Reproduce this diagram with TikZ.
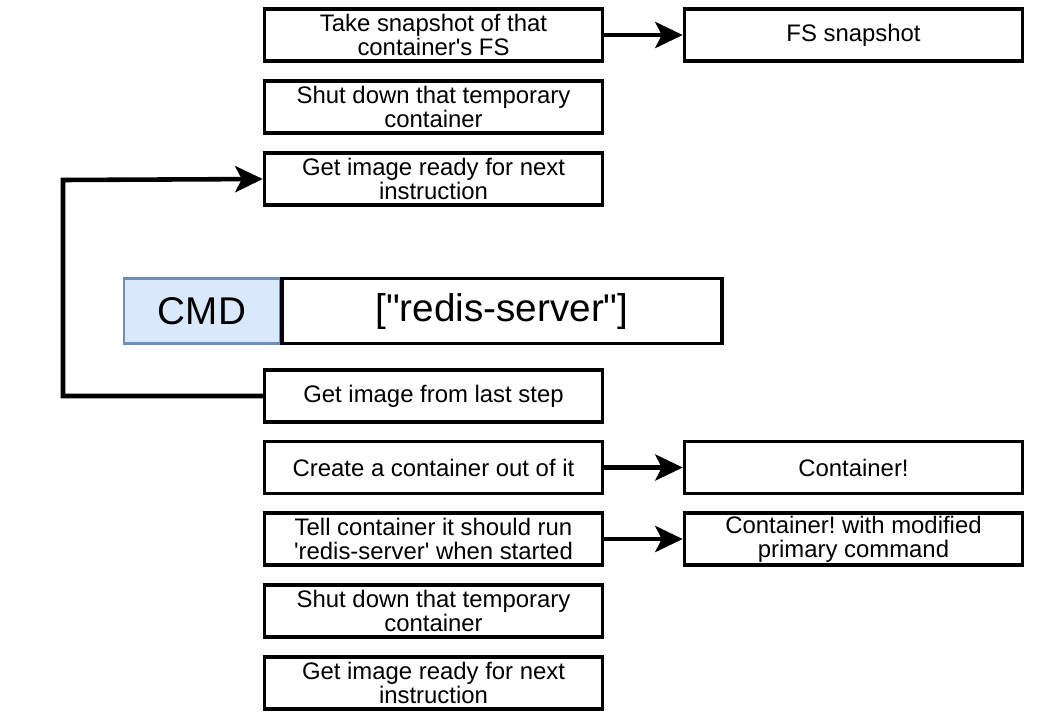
\documentclass[tikz,border=0pt]{standalone}
\usepackage{fontspec}
\setmainfont{Liberation Sans}
\usepackage{xcolor}
\usepackage{tikz}
\usetikzlibrary{arrows.meta,positioning}

\definecolor{cmdfill}{HTML}{DAE8FC}
\definecolor{cmddraw}{HTML}{6C8EBF}
\frenchspacing

\begin{document}
\begin{tikzpicture}[
    x=0.02cm, y=-0.02cm,
    step box/.style={rectangle, draw, line width=2pt, minimum width=6.76cm, minimum height=1.04cm, inner sep=0pt, align=center, font=\fontsize{13.6}{13.8}\selectfont},
    result/.style={step box},
    cmd/.style={rectangle, draw=cmddraw, fill=cmdfill, line width=1.4pt, minimum width=3.12cm, minimum height=1.3cm, inner sep=0pt, font=\fontsize{22}{26}\selectfont},
    instr/.style={rectangle, draw, line width=2pt, minimum width=8.8cm, minimum height=1.3cm, inner sep=0pt, font=\fontsize{22}{26}\selectfont},
    arrow/.style={-{Stealth[length=0.55cm, width=0.52cm, inset=0.13cm]}, line width=2.6pt}
]
\useasboundingbox (0,0) rectangle (1046,718);

% Upper steps
\node[step box] (snap) at (433.5,35) {Take snapshot of that\\container\textquotesingle s FS};
\node[step box] (shutA) at (433.5,107) {Shut down that temporary\\container};
\node[step box] (readyA) at (433.5,179) {Get image ready for next\\instruction};
\node[result] (fs) at (853.5,35) {FS snapshot};

% Instruction
\node[cmd] (cmd) at (202,311) {CMD};
\node[instr] (redis) at (502,311) {[\textquotedbl redis-server\textquotedbl]};

% Lower steps
\node[step box] (last) at (433.5,396) {Get image from last step};
\node[step box] (create) at (433.5,467.5) {Create a container out of it};
\node[step box] (tell) at (433.5,539) {Tell container it should run\\\textquotesingle redis-server\textquotesingle{} when started};
\node[step box] (shutB) at (433.5,611) {Shut down that temporary\\container};
\node[step box] (readyB) at (433.5,683) {Get image ready for next\\instruction};
\node[result] (cont) at (853.5,467.5) {Container!};
\node[result] (contmod) at (853.5,539) {Container! with modified\\primary command};

% Connectors
\coordinate (loopB) at (63,396);
\coordinate (loopT) at (63,180);
\draw[arrow] (snap) -- (fs);
\draw[arrow] (create) -- (cont);
\draw[arrow] (tell) -- (contmod);
\draw[arrow] (last.west) -- (loopB) -- (loopT) -- (readyA.west);

\end{tikzpicture}
\end{document}
